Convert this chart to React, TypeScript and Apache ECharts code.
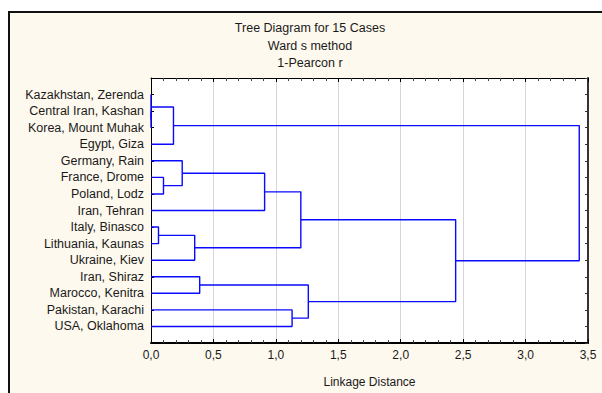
import React, { useEffect, useRef } from "react";
import * as echarts from "echarts";

// Cases, top to bottom as drawn
const cases = [
  "Kazakhstan, Zerenda",
  "Central Iran, Kashan",
  "Korea, Mount Muhak",
  "Egypt, Giza",
  "Germany, Rain",
  "France, Drome",
  "Poland, Lodz",
  "Iran, Tehran",
  "Italy, Binasco",
  "Lithuania, Kaunas",
  "Ukraine, Kiev",
  "Iran, Shiraz",
  "Marocco, Kenitra",
  "Pakistan, Karachi",
  "USA, Oklahoma",
];

// Agglomeration steps: node ids 0..14 are cases, 15.. are merges in order
const mergeLeft = [1, 0, 16, 5, 4, 19, 8, 21, 20, 11, 13, 24, 23, 17];
const mergeRight = [2, 15, 3, 6, 18, 7, 9, 10, 22, 12, 14, 25, 26, 27];
const mergeDistance = [0.0, 0.0, 0.18, 0.1, 0.25, 0.91, 0.06, 0.35, 1.2, 0.39, 1.13, 1.26, 2.44, 3.43];

const titleLines = ["Tree Diagram for 15 Cases", "Ward s method", "1-Pearcon r"];
const xAxisName = "Linkage Distance";
const xMin = 0;
const xMax = 3.5;
const xStep = 0.5;

const FONT = "'Liberation Sans', Arial, sans-serif";

export default function App() {
  const ref = useRef<HTMLDivElement>(null);

  useEffect(() => {
    if (!ref.current) return;
    const chart = echarts.init(ref.current, null, { renderer: "svg" });

    const pos: number[] = cases.map((_, i) => i);
    const dist: number[] = cases.map(() => 0);
    const series: any[] = [];
    mergeLeft.forEach((a, k) => {
      const b = mergeRight[k];
      const d = mergeDistance[k];
      series.push({
        type: "line",
        xAxisIndex: 0,
        yAxisIndex: 0,
        showSymbol: false,
        symbol: "none",
        silent: true,
        clip: false,
        lineStyle: { color: "#0a0aff", width: 1.4 },
        data: [
          [dist[a], pos[a]],
          [d, pos[a]],
          [d, pos[b]],
          [dist[b], pos[b]],
        ],
        z: 3,
      });
      pos.push((pos[a] + pos[b]) / 2);
      dist.push(d);
    });

    const fmt = (v: number) => v.toFixed(1).replace(".", ",");

    chart.setOption({
      animation: false,
      backgroundColor: "transparent",
      textStyle: { fontFamily: FONT },
      graphic: titleLines.map((t, i) => ({
        type: "text",
        x: 310,
        y: 28 + i * 17.5,
        silent: true,
        style: {
          text: t,
          align: "center",
          verticalAlign: "middle",
          fontSize: 12.5,
          fontFamily: FONT,
          fill: "#1a1a1a",
        },
      })),
      grid: {
        left: 151,
        right: 14,
        top: 78,
        bottom: 43,
        show: true,
        backgroundColor: "#ffffff",
        borderWidth: 0,
      },
      xAxis: [
        {
          type: "value",
          position: "bottom",
          min: xMin,
          max: xMax,
          interval: xStep,
          name: xAxisName,
          nameLocation: "middle",
          nameGap: 33,
          nameTextStyle: { fontSize: 12, color: "#1a1a1a", fontFamily: FONT },
          axisLine: { show: true, onZero: false, lineStyle: { color: "#000", width: 2 } },
          axisTick: { show: true, inside: true, length: 4, lineStyle: { color: "#000" } },
          minorTick: { show: true, splitNumber: 5, length: 3, lineStyle: { color: "#444" } },
          axisLabel: { formatter: fmt, fontSize: 12, color: "#1a1a1a", margin: 6, fontFamily: FONT },
          splitLine: { show: true, lineStyle: { color: "#d6d6d6", width: 1 } },
        },
        {
          type: "value",
          position: "top",
          min: xMin,
          max: xMax,
          interval: xStep,
          axisLine: { show: true, onZero: false, lineStyle: { color: "#000", width: 1 } },
          axisTick: { show: true, inside: true, length: 4, lineStyle: { color: "#000" } },
          minorTick: { show: true, splitNumber: 5, length: 3, lineStyle: { color: "#444" } },
          axisLabel: { show: false },
          splitLine: { show: false },
        },
      ],
      yAxis: [
        {
          type: "value",
          position: "left",
          min: -1,
          max: cases.length,
          interval: 1,
          inverse: true,
          axisLine: { show: true, onZero: false, lineStyle: { color: "#000", width: 1 } },
          axisTick: { show: true, inside: true, length: 3, lineStyle: { color: "#000" } },
          axisLabel: {
            formatter: (v: number) => (v >= 0 && v < cases.length ? cases[v] : ""),
            fontSize: 12.5,
            color: "#1a1a1a",
            margin: 7,
            fontFamily: FONT,
          },
          splitLine: { show: false },
        },
        {
          type: "value",
          position: "right",
          min: -1,
          max: cases.length,
          interval: 1,
          inverse: true,
          axisLine: { show: true, onZero: false, lineStyle: { color: "#333", width: 2 } },
          axisTick: { show: true, inside: true, length: 3, lineStyle: { color: "#333" } },
          axisLabel: { show: false },
          splitLine: { show: false },
        },
      ],
      series,
    });

    return () => chart.dispose();
  }, []);

  return (
    <div
      style={{
        position: "fixed",
        left: 0,
        top: 0,
        width: 602,
        height: 393,
        overflow: "hidden",
        background: "#ffffff",
      }}
    >
      <div
        style={{
          position: "absolute",
          left: 8,
          top: 11,
          width: 700,
          height: 500,
          border: "2px solid #111",
          background: "#fef9ee",
        }}
      />
      <div ref={ref} style={{ position: "absolute", left: 0, top: 0, width: 602, height: 393 }} />
    </div>
  );
}
